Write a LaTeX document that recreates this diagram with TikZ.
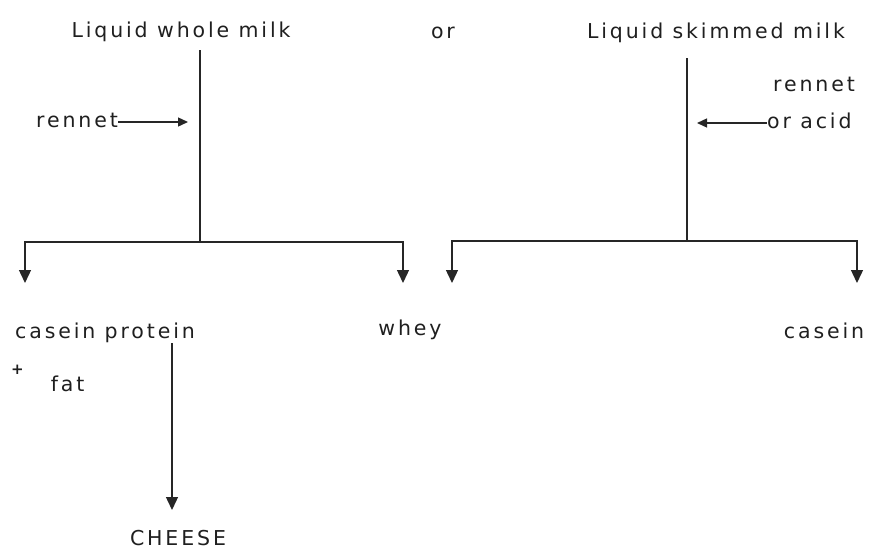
\documentclass[tikz,border=0pt]{standalone}
\usepackage{fontspec}
\setmainfont{DejaVu Sans}[LetterSpace=14]
\usetikzlibrary{arrows.meta}
\begin{document}
\begin{tikzpicture}[x=1pt,y=-1pt,
  lbl/.style={inner sep=0pt,anchor=base,font=\fontsize{20.5}{24}\selectfont,text=black!88},
  conn/.style={line width=1.4pt,draw=black!85},
  tip/.style={-{Triangle[width=12pt,length=13pt]}},
  smalltip/.style={-{Triangle[width=9pt,length=10pt]}}]
\useasboundingbox (0,0) rectangle (871,549);
% text nodes
\node[lbl] (lw) at (181,37) {Liquid whole milk};
\node[lbl] (or) at (443,38) {or};
\node[lbl] (ls) at (716,38) {Liquid skimmed milk};
\node[lbl,anchor=base east] (rn1) at (118,127) {rennet};
\node[lbl] (rn2) at (814,91) {rennet};
\node[lbl,anchor=base west] (acid) at (767,128) {or acid};
\node[lbl,anchor=base west] (cp) at (15,338) {casein protein};
\node[lbl,anchor=base west] (fat) at (11,391) {\raisebox{17pt}{\fontsize{15}{15}\selectfont\bfseries +}\hspace{27pt}fat};
\node[lbl] (wh) at (410,335) {whey};
\node[lbl] (cs) at (824,338) {casein};
\node[lbl] (ch) at (178,545) {CHEESE};
% junction coordinates
\coordinate (tL) at (200,50);
\coordinate (jL) at (200,242);
\coordinate (tR) at (687,58);
\coordinate (jR) at (687,241);
\coordinate (aL1) at (25,283);
\coordinate (aL2) at (403,283);
\coordinate (aR1) at (452,283);
\coordinate (aR2) at (857,283);
\coordinate (rnE) at (188,122);
\coordinate (acE) at (697,123);
\coordinate (chS) at (172,343);
\coordinate (chE) at (172,510);
% connectors
\draw[conn] (tL) -- (jL);
\draw[conn,tip] (jL) -| (aL1);
\draw[conn,tip] (jL) -| (aL2);
\draw[conn] (tR) -- (jR);
\draw[conn,tip] (jR) -| (aR1);
\draw[conn,tip] (jR) -| (aR2);
\draw[conn,smalltip] (rn1.east |- rnE) -- (rnE);
\draw[conn,smalltip] (acid.west |- acE) -- (acE);
\draw[conn,tip] (chS) -- (chE);
\end{tikzpicture}
\end{document}
